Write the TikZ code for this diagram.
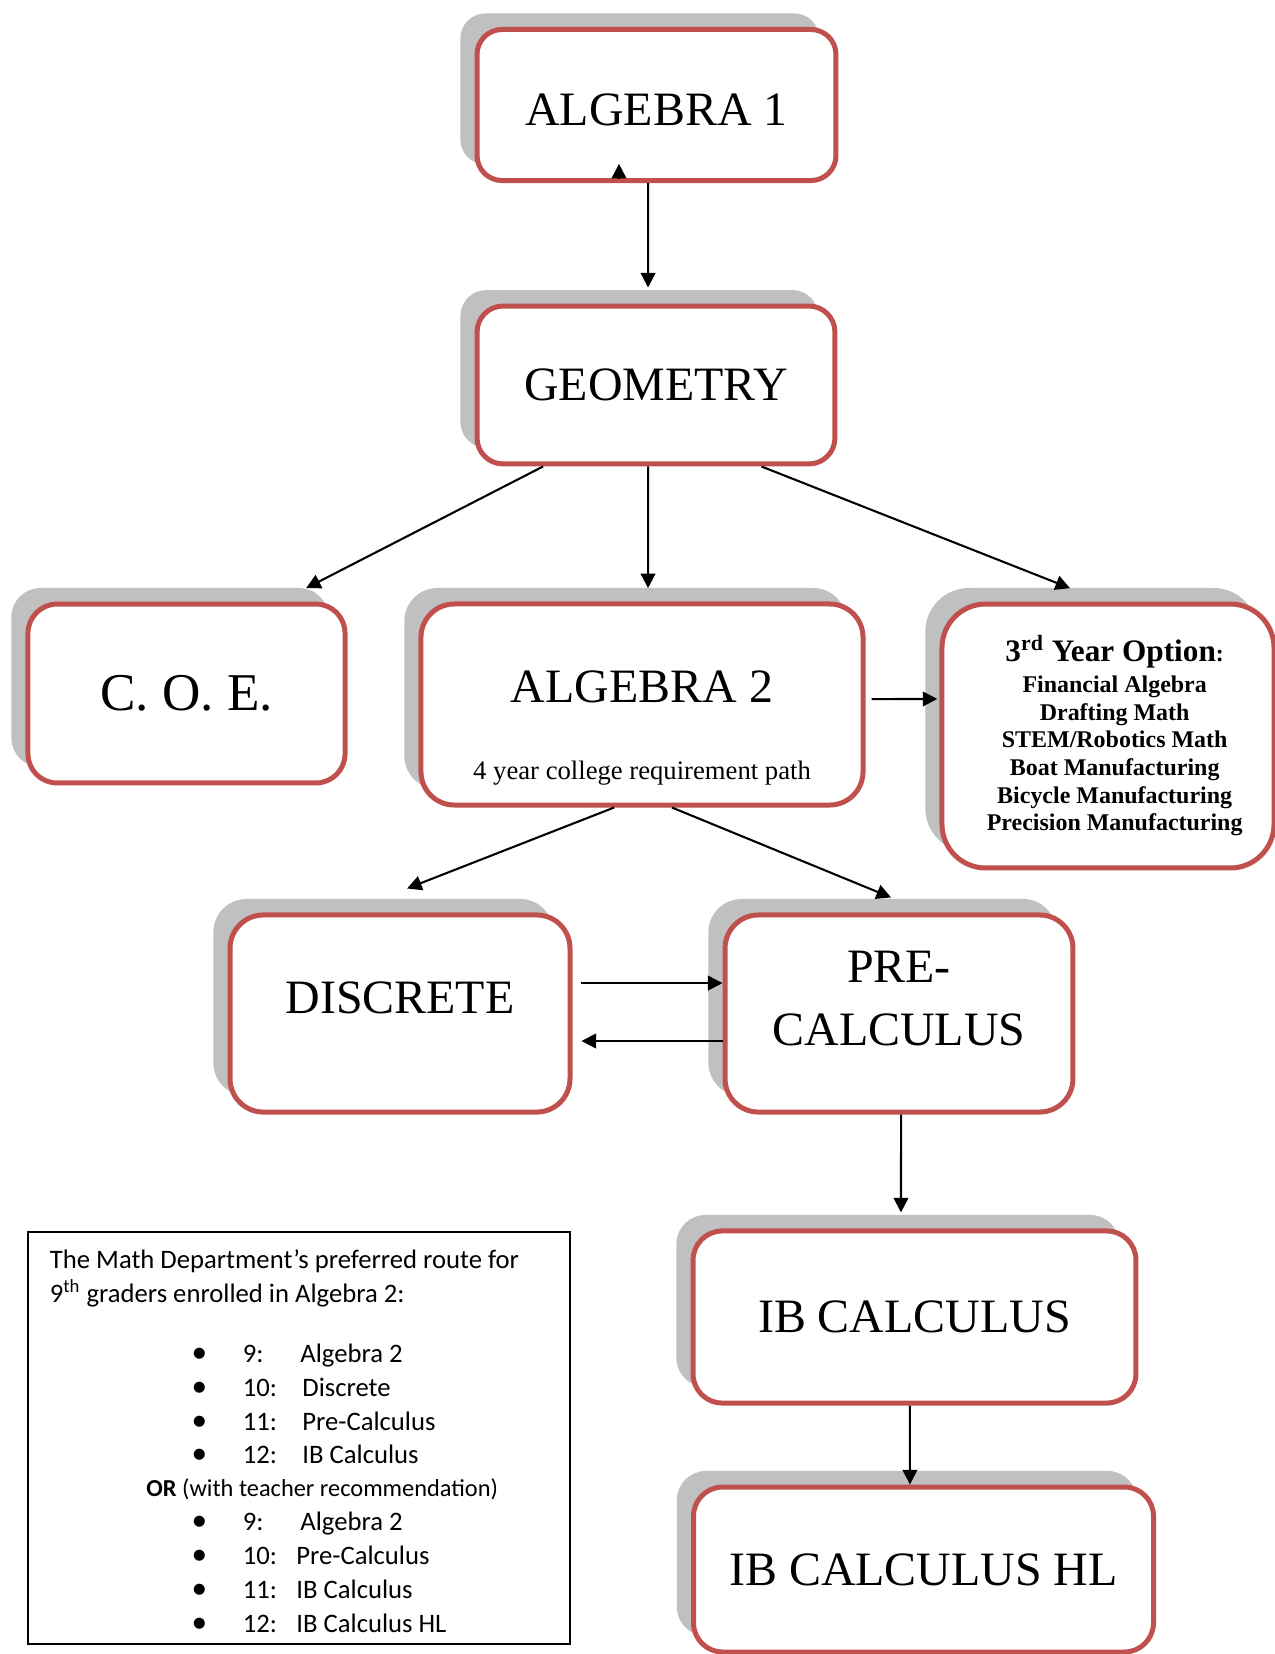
\documentclass[tikz,border=0pt]{standalone}
\usepackage{fontspec}
\setmainfont{Liberation Serif}
\newfontfamily\notefont{Carlito}
\usetikzlibrary{arrows.meta,shadows}
\definecolor{boxred}{HTML}{C0504D}
\definecolor{shadowgray}{HTML}{C0C0C0}

\begin{document}
\begin{tikzpicture}[
    x=0.48pt,y=-0.48pt,
    course/.style={draw=boxred, line width=2.4pt, fill=white, rounded corners=14pt, align=center,
        font=\fontsize{23}{30}\selectfont,
        general shadow={fill=shadowgray, shadow xshift=-8pt, shadow yshift=7.7pt}},
    sub/.style={anchor=base, inner sep=0pt, font=\fontsize{12.8}{15}\selectfont},
    options/.style={align=center, inner sep=0pt, font=\fontsize{11.5}{13.3}\selectfont\bfseries},
    link/.style={-{Triangle[length=7pt,width=7pt]}, line width=1pt},
    notebox/.style={draw, line width=1pt, inner sep=0pt},
    note/.style={anchor=base west, inner sep=0pt, font=\notefont\fontsize{12.8}{15}\selectfont}
]
    \useasboundingbox (0,0) rectangle (1275,1654);
    \clip (0,0) rectangle (1275,1654);

    \node[course, rounded corners=12pt, text height=20pt, minimum width=172.3pt, minimum height=72.5pt] (alg1) at (656.5,105) {ALGEBRA 1};
    \node[course, rounded corners=12.5pt, minimum width=171.8pt, minimum height=75.8pt] (geo) at (656,385) {GEOMETRY};

    \node[course, font=\fontsize{25.5}{30}\selectfont, minimum width=152.2pt, minimum height=85.9pt] (coe) at (186.5,693.5) {C. O. E.};
    \node[course, rounded corners=16pt, text depth=17pt, minimum width=212.2pt, minimum height=96.5pt] (alg2) at (642,704.5) {ALGEBRA 2};
    \node[sub] (alg2note) at ([yshift=13.4pt]alg2.south) {4 year college requirement path};
    \node[course, rounded corners=21pt, minimum width=159.4pt, minimum height=126.7pt] (opt) at (1108,736) {};
    \node[options] (optlist) at ([xshift=3.2pt]opt.center)
        {{\fontsize{15}{18}\selectfont 3\textsuperscript{rd} Year Option}:\\[1.4pt]
         Financial Algebra\\ Drafting Math\\ STEM/Robotics Math\\ Boat Manufacturing\\
         Bicycle Manufacturing\\ Precision Manufacturing};

    \node[course, rounded corners=16pt, text depth=15pt, minimum width=163.2pt, minimum height=94.6pt] (disc) at (400,1013.5) {DISCRETE};
    \node[course, rounded corners=16pt, text depth=14.4pt, minimum width=167pt, minimum height=94.6pt] (pre) at (899,1013.5) {PRE-\\CALCULUS};

    \node[course, minimum width=212.6pt, minimum height=82.6pt] (ibc) at (914.5,1317) {IB CALCULUS};
    \node[course, minimum width=220.8pt, minimum height=79.2pt] (ibhl) at (923.5,1569.5) {IB CALCULUS HL};

    % connectors
    \coordinate (stray) at ([xshift=-18pt,yshift=2.2pt]alg1.south);
    \draw[link] (stray) -- ++(0,7pt);
    \draw[link] ([xshift=-4pt]alg1.south) -- ([xshift=-3.8pt,yshift=7.7pt]geo.north);
    \draw[link] ([xshift=-54.2pt]geo.south) -- ([xshift=57.4pt,yshift=6.4pt]coe.north);
    \draw[link] ([xshift=-3.8pt]geo.south) -- ([xshift=2.9pt,yshift=6.4pt]alg2.north);
    \draw[link] ([xshift=50.6pt]geo.south) -- ([xshift=-18.2pt,yshift=6.4pt]opt.north);
    \draw[link] ([xshift=2.9pt,yshift=2.6pt]alg2.east) -- ([xshift=-1pt,yshift=17.8pt]opt.west);
    \draw[link] ([xshift=-13.4pt]alg2.south) -- ([xshift=3.4pt,yshift=11.5pt]disc.north);
    \draw[link] ([xshift=14.4pt]alg2.south) -- ([xshift=-3.8pt,yshift=7.2pt]pre.north);
    \draw[link] ([xshift=4.3pt,yshift=14.6pt]disc.east) -- ([yshift=14.6pt]pre.west);
    \draw[link] ([yshift=-13.2pt]pre.west) -- ([xshift=4.3pt,yshift=-13.2pt]disc.east);
    \draw[link] ([xshift=1pt]pre.south) -- ([xshift=-6.5pt,yshift=7.7pt]ibc.north);
    \draw[link] ([xshift=-2.2pt]ibc.south) -- ([xshift=-6.5pt]ibhl.north);

    % preferred route note
    \node[notebox, minimum width=260.2pt, minimum height=197.8pt] (legend) at (299,1438) {};
    \node[note] (intro1) at (49.5,1268) {The Math Department’s preferred route for};
    \node[note] (intro2) at (49.5,1302) {9\textsuperscript{th} graders enrolled in Algebra 2:};
    \foreach \y/\yr/\x/\crs [count=\i] in {1362/9:/300/Algebra 2, 1396/10:/302/Discrete,
        1430/11:/302/Pre-Calculus, 1463/12:/302/IB Calculus} {
        \node[note, anchor=base] (dotA\i) at (199.5,\y) {\fontsize{15}{15}\selectfont •};
        \node[note] (yrA\i) at (242.5,\y) {\yr};
        \node[note] (crsA\i) at (\x,\y) {\crs};
    }
    \node[note, font=\notefont\fontsize{11.7}{14}\selectfont] (orline) at (146,1496) {\textbf{OR} (with teacher recommendation)};
    \foreach \y/\yr/\x/\crs [count=\i] in {1530/9:/300/Algebra 2, 1564/10:/296/Pre-Calculus,
        1598/11:/296/IB Calculus, 1632/12:/296/IB Calculus HL} {
        \node[note, anchor=base] (dotB\i) at (199.5,\y) {\fontsize{15}{15}\selectfont •};
        \node[note] (yrB\i) at (242.5,\y) {\yr};
        \node[note] (crsB\i) at (\x,\y) {\crs};
    }
\end{tikzpicture}
\end{document}
